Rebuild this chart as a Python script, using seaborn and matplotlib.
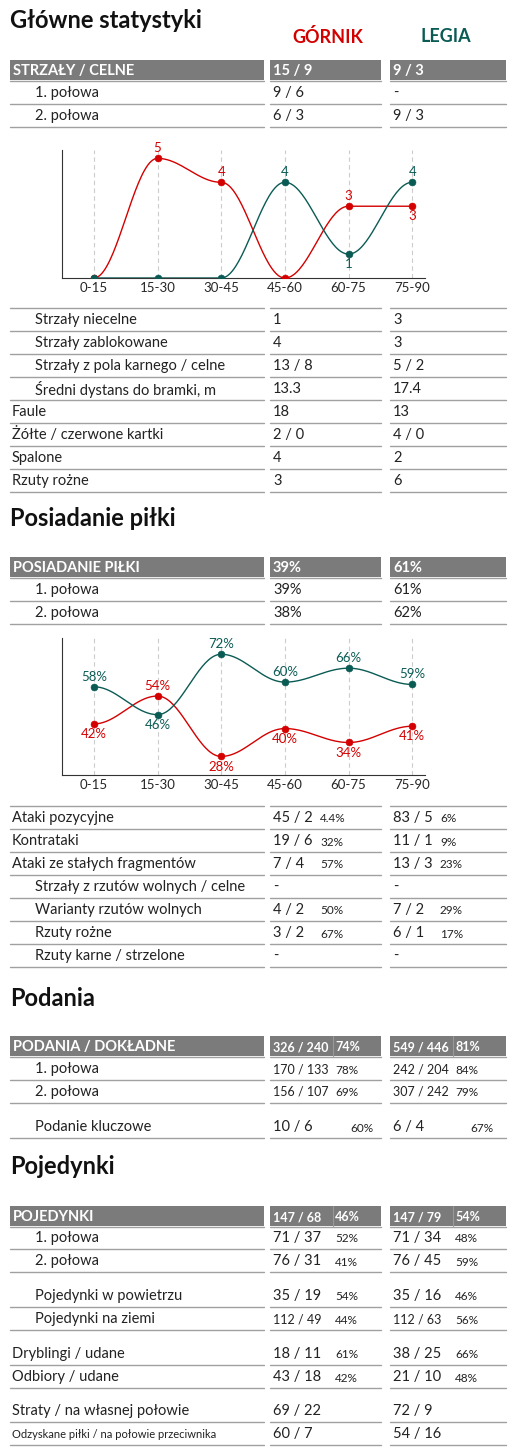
import numpy as np
import pandas as pd
import seaborn as sns
import matplotlib.pyplot as plt

sns.set_theme(style="white")
plt.rcParams['font.family'] = ['Lato', 'DejaVu Sans']

RED = "#d40000"
GREEN = "#0b5b55"
BAR = "#7b7b7b"
LINE = "#a0a0a0"

periods = ["0-15", "15-30", "30-45", "45-60", "60-75", "75-90"]
shots_gornik = [0, 5, 4, 0, 3, 3]
shots_legia = [0, 0, 0, 4, 1, 4]
poss_gornik = [42, 54, 28, 40, 34, 41]
poss_legia = [58, 46, 72, 60, 66, 59]

# (label, gornik, legia, gornik %, legia %, indent)
shots_head = ("STRZAŁY / CELNE", "15 / 9", "9 / 3", "", "")
shots_rows = [("1. połowa", "9 / 6", "-", "", "", 1),
              ("2. połowa", "6 / 3", "9 / 3", "", "", 1)]
shots_more = [("Strzały niecelne", "1", "3", "", "", 1),
              ("Strzały zablokowane", "4", "3", "", "", 1),
              ("Strzały z pola karnego / celne", "13 / 8", "5 / 2", "", "", 1),
              ("Średni dystans do bramki, m", "13.3", "17.4", "", "", 1),
              ("Faule", "18", "13", "", "", 0),
              ("Żółte / czerwone kartki", "2 / 0", "4 / 0", "", "", 0),
              ("Spalone", "4", "2", "", "", 0),
              ("Rzuty rożne", "3", "6", "", "", 0)]
poss_head = ("POSIADANIE PIŁKI", "39%", "61%", "", "")
poss_rows = [("1. połowa", "39%", "61%", "", "", 1),
             ("2. połowa", "38%", "62%", "", "", 1)]
attack_rows = [("Ataki pozycyjne", "45 / 2", "83 / 5", "4.4%", "6%", 0),
               ("Kontrataki", "19 / 6", "11 / 1", "32%", "9%", 0),
               ("Ataki ze stałych fragmentów", "7 / 4", "13 / 3", "57%", "23%", 0),
               ("Strzały z rzutów wolnych / celne", "-", "-", "", "", 1),
               ("Warianty rzutów wolnych", "4 / 2", "7 / 2", "50%", "29%", 1),
               ("Rzuty rożne", "3 / 2", "6 / 1", "67%", "17%", 1),
               ("Rzuty karne / strzelone", "-", "-", "", "", 1)]
pass_head = ("PODANIA / DOKŁADNE", "326 / 240", "549 / 446", "74%", "81%")
pass_rows = [("1. połowa", "170 / 133", "242 / 204", "78%", "84%", 1),
             ("2. połowa", "156 / 107", "307 / 242", "69%", "79%", 1)]
pass_key = [("Podanie kluczowe", "10 / 6", "6 / 4", "60%", "67%", 1)]
duel_head = ("POJEDYNKI", "147 / 68", "147 / 79", "46%", "54%")
duel_rows = [("1. połowa", "71 / 37", "71 / 34", "52%", "48%", 1),
             ("2. połowa", "76 / 31", "76 / 45", "41%", "59%", 1)]
duel_air = [("Pojedynki w powietrzu", "35 / 19", "35 / 16", "54%", "46%", 1),
            ("Pojedynki na ziemi", "112 / 49", "112 / 63", "44%", "56%", 1)]
duel_drib = [("Dryblingi / udane", "18 / 11", "38 / 25", "61%", "66%", 0),
             ("Odbiory / udane", "43 / 18", "21 / 10", "42%", "48%", 0)]
duel_loss = [("Straty / na własnej połowie", "69 / 22", "72 / 9", "", "", 0),
             ("Odzyskane piłki / na połowie przeciwnika", "60 / 7", "54 / 16", "", "", 0)]

W, H = 517, 1451
fig = plt.figure(figsize=(W / 100, H / 100), dpi=100)
bg = fig.add_axes([0, 0, 1, 1])
bg.set_xlim(0, W)
bg.set_ylim(H, 0)
bg.axis("off")

COLS = [(10, 264), (270, 381), (390, 506)]
STEP = 23


def title(y, s):
    bg.text(10, y, s, fontsize=17, fontweight="bold", va="center", color="#111")


def header(y, row, pct_x=(335, 455)):
    for (x0, x1) in COLS:
        bg.add_patch(plt.Rectangle((x0, y - 10), x1 - x0, 20, color=BAR, lw=0))
    bg.text(13, y + 1, row[0], color="white", fontsize=10.5, fontweight="bold", va="center")
    small = bool(row[3])
    for i, (x0, _) in enumerate(COLS[1:]):
        bg.text(x0 + 3, y + 1, row[1 + i], color="white", va="center",
                fontsize=9 if small else 10.5, fontweight="bold")
        if row[3 + i]:
            bg.plot([pct_x[i] - 2, pct_x[i] - 2], [y - 10, y + 10], color="#999", lw=0.8)
            bg.text(pct_x[i], y + 1, row[3 + i], color="white", va="center",
                    fontsize=9, fontweight="bold")
    for (x0, x1) in COLS:
        bg.plot([x0, x1], [y + 11, y + 11], color=LINE, lw=1)


def rows(y, data, pct_x=(320, 440)):
    for k, r in enumerate(data):
        yy = y + k * STEP
        fs = 8 if len(r[0]) > 35 else 10.5
        bg.text(35 if r[5] else 12, yy, r[0], fontsize=fs, va="center", color="#222")
        for i, (x0, _) in enumerate(COLS[1:]):
            vs = 9 if len(r[1 + i]) > 7 else 10.5
            bg.text(x0 + 3, yy, r[1 + i], fontsize=vs, va="center", color="#222")
            if r[3 + i]:
                bg.text(pct_x[i], yy + 1, r[3 + i], fontsize=8.5, va="center", color="#222")
        for (x0, x1) in COLS:
            bg.plot([x0, x1], [yy + 11, yy + 11], color=LINE, lw=1)


def ease(vals, n=40):
    xs, ys = [], []
    for i in range(len(vals) - 1):
        t = np.linspace(0, 1, n, endpoint=False)
        s = (1 - np.cos(np.pi * t)) / 2
        xs.extend(i + t)
        ys.extend(vals[i] + (vals[i + 1] - vals[i]) * s)
    xs.append(len(vals) - 1)
    ys.append(vals[-1])
    return xs, ys


def chart(rect, g, l, ylim, suffix, off):
    ax = fig.add_axes(rect)
    for vals, col in ((g, RED), (l, GREEN)):
        xs, ys = ease(vals)
        sns.lineplot(x=xs, y=ys, color=col, lw=1, ax=ax)
        df = pd.DataFrame({"x": range(len(periods)), "y": vals})
        sns.scatterplot(data=df, x="x", y="y", color=col, s=25, ax=ax, zorder=5, edgecolor=col)
    for i in range(len(periods)):
        ax.axvline(i, color="#cccccc", ls=(0, (4, 3)), lw=0.8, zorder=0)
        for vals, other, col, is_l in ((g, l, RED, False), (l, g, GREEN, True)):
            v = vals[i]
            if v == 0:
                continue
            up = v > other[i] or (v == other[i] and is_l)
            ax.annotate(f"{v}{suffix}", (i, v), xytext=(0, off if up else -off),
                        textcoords="offset points", ha="center",
                        va="bottom" if up else "top", color=col, fontsize=9.5)
    ax.set_xlim(-0.5, 5.2)
    ax.set_ylim(*ylim)
    ax.set_xticks(range(len(periods)))
    ax.set_xticklabels(periods, fontsize=9.5)
    ax.set_yticks([])
    ax.set_xlabel("")
    ax.set_ylabel("")
    ax.tick_params(axis="x", length=0, pad=3)
    sns.despine(ax=ax)
    for s in ("left", "bottom"):
        ax.spines[s].set_color("#333")
        ax.spines[s].set_linewidth(0.8)
    ax.set_facecolor("none")


def rect(x0, y0, x1, y1):
    return [x0 / W, 1 - y1 / H, (x1 - x0) / W, (y1 - y0) / H]


title(21, "Główne statystyki")
bg.text(328, 37, "GÓRNIK", color=RED, fontsize=13, fontweight="bold", ha="center", va="center")
bg.text(446, 37, "LEGIA", color=GREEN, fontsize=13, fontweight="bold", ha="center", va="center")
header(70, shots_head)
rows(93, shots_rows)
chart(rect(62, 150, 425, 278), shots_gornik, shots_legia, (0, 5.35), "", 3)
for (x0, x1) in COLS:
    bg.plot([x0, x1], [308, 308], color=LINE, lw=1)
rows(320, shots_more)

title(519, "Posiadanie piłki")
header(567, poss_head)
rows(590, poss_rows)
chart(rect(62, 638, 425, 775), poss_gornik, poss_legia, (20, 79), "%", 3)
for (x0, x1) in COLS:
    bg.plot([x0, x1], [806, 806], color=LINE, lw=1)
rows(818, attack_rows)

title(998, "Podania")
header(1046, pass_head)
rows(1069, pass_rows, pct_x=(335, 455))
rows(1127, pass_key, pct_x=(350, 470))

title(1167, "Pojedynki")
header(1216, duel_head)
rows(1238, duel_rows, pct_x=(335, 455))
rows(1296, duel_air, pct_x=(335, 455))
rows(1354, duel_drib, pct_x=(335, 455))
rows(1411, duel_loss)

fig.savefig("out.png", dpi=100)
